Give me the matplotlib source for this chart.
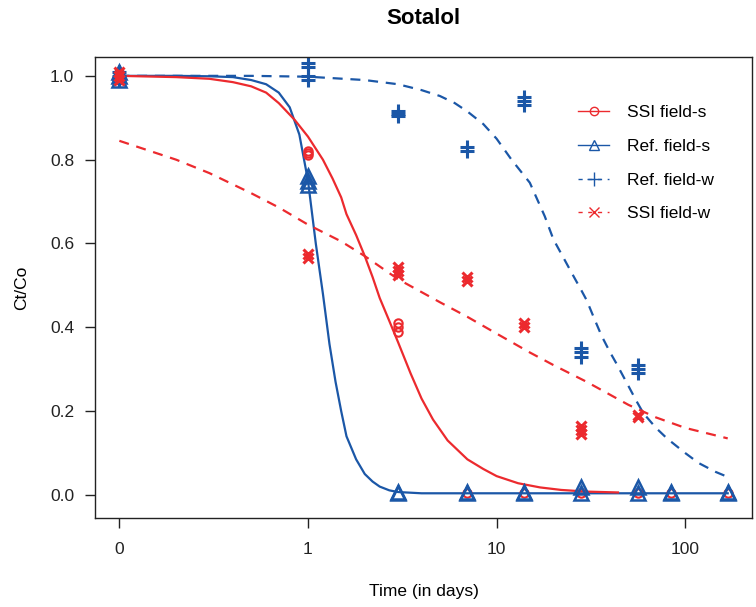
import numpy as np
import matplotlib.pyplot as plt
from matplotlib.ticker import FixedLocator, FixedFormatter, NullLocator

plt.rcParams['font.family'] = ['Liberation Sans', 'DejaVu Sans']

RED = '#EC2A2E'
BLUE = '#1B57A7'

# time 0 is drawn at 0.1 on the log axis and labelled "0"
ZERO_POS = 0.1

# measured points (replicates)
ssi_s_t = [0, 0, 0, 1, 1, 1, 3, 3, 3, 7, 14, 28, 56, 84, 168]
ssi_s_y = [0.99, 1.0, 1.01, 0.81, 0.815, 0.82, 0.39, 0.40, 0.41,
           0.005, 0.005, 0.005, 0.005, 0.005, 0.005]

ref_s_t = [0, 0, 0, 1, 1, 1, 3, 3, 7, 7, 14, 14, 28, 28, 56, 56, 84, 84, 168, 168]
ref_s_y = [0.99, 1.0, 1.01, 0.74, 0.75, 0.76, 0.005, 0.008, 0.005, 0.008,
           0.005, 0.008, 0.005, 0.02, 0.005, 0.02, 0.005, 0.008, 0.005, 0.008]

ref_w_t = [0, 0, 0, 1, 1, 1, 1, 3, 3, 3, 7, 7, 14, 14, 14, 28, 28, 28, 56, 56, 56]
ref_w_y = [0.99, 1.0, 1.01, 0.99, 1.0, 1.02, 1.03, 0.905, 0.91, 0.915, 0.82, 0.83,
           0.93, 0.94, 0.95, 0.33, 0.34, 0.35, 0.29, 0.30, 0.31]

ssi_w_t = [0, 0, 0, 1, 1, 3, 3, 3, 7, 7, 14, 14, 28, 28, 28, 56, 56]
ssi_w_y = [0.99, 1.0, 1.01, 0.565, 0.575, 0.525, 0.535, 0.545, 0.51, 0.52,
           0.40, 0.41, 0.145, 0.155, 0.165, 0.185, 0.19]

# fitted curves
fit_ssi_s_t = [0.1, 0.2, 0.3, 0.4, 0.5, 0.6, 0.7, 0.85, 1, 1.2, 1.35, 1.5, 1.6, 1.8, 2,
               2.2, 2.4, 2.7, 3, 3.5, 4, 4.6, 5.5, 7, 8.5, 10, 13, 17, 22, 30, 44]
fit_ssi_s_y = [1.0, 0.997, 0.993, 0.985, 0.975, 0.96, 0.935, 0.895, 0.855, 0.80, 0.755,
               0.71, 0.67, 0.62, 0.57, 0.52, 0.47, 0.415, 0.365, 0.29, 0.23, 0.18,
               0.13, 0.085, 0.062, 0.045, 0.028, 0.018, 0.012, 0.008, 0.006]

fit_ref_s_t = [0.1, 0.2, 0.3, 0.4, 0.5, 0.6, 0.7, 0.8, 0.9, 1.0, 1.1, 1.2, 1.3, 1.4, 1.5,
               1.6, 1.8, 2.0, 2.2, 2.4, 2.7, 3, 4, 5, 10, 168]
fit_ref_s_y = [1.0, 1.0, 0.999, 0.997, 0.99, 0.98, 0.96, 0.925, 0.86, 0.75, 0.60, 0.48,
               0.36, 0.27, 0.20, 0.14, 0.085, 0.05, 0.032, 0.02, 0.011, 0.007, 0.004,
               0.004, 0.004, 0.004]

fit_ref_w_t = [0.1, 0.5, 1, 2, 3, 4, 5, 6, 7, 8.5, 10, 12, 15, 18, 20, 23, 25, 28, 30, 33,
               36, 40, 43, 50, 55, 60, 70, 80, 100, 118, 145, 168]
fit_ref_w_y = [1.0, 1.0, 0.998, 0.99, 0.98, 0.966, 0.952, 0.935, 0.915, 0.885, 0.85, 0.80,
               0.745, 0.665, 0.61, 0.56, 0.53, 0.49, 0.465, 0.42, 0.38, 0.34, 0.315,
               0.26, 0.225, 0.195, 0.16, 0.135, 0.10, 0.076, 0.055, 0.043]

fit_ssi_w_t = [0.1, 0.2, 0.3, 0.5, 0.7, 1, 1.5, 2, 3, 5, 7, 10, 15, 20, 30, 50, 70, 100, 168]
fit_ssi_w_y = [0.845, 0.80, 0.768, 0.72, 0.686, 0.645, 0.605, 0.57, 0.515, 0.46, 0.425,
               0.385, 0.34, 0.31, 0.27, 0.215, 0.185, 0.16, 0.135]


def pos(t):
    t = np.asarray(t, dtype=float)
    return np.where(t == 0, ZERO_POS, t)


fig = plt.figure(figsize=(7.56, 6.07), dpi=100)
ax = fig.add_axes([0.1257, 0.1466, 0.869, 0.7595])

ax.plot(fit_ref_w_t, fit_ref_w_y, color=BLUE, lw=1.6, ls=(0, (4.5, 3.5)))
ax.plot(fit_ref_s_t, fit_ref_s_y, color=BLUE, lw=1.6)
ax.plot(fit_ssi_w_t, fit_ssi_w_y, color=RED, lw=1.6, ls=(0, (4.5, 3.5)))
ax.plot(fit_ssi_s_t, fit_ssi_s_y, color=RED, lw=1.6)

ax.plot(pos(ssi_s_t), ssi_s_y, ls='none', marker='o', ms=6, mew=1.5, mfc='none', color=RED)
ax.plot(pos(ref_s_t), ref_s_y, ls='none', marker='^', ms=9.5, mew=1.8, mfc='none', color=BLUE)
ax.plot(pos(ref_w_t), ref_w_y, ls='none', marker='+', ms=10, mew=2.2, color=BLUE)
ax.plot(pos(ssi_w_t), ssi_w_y, ls='none', marker='x', ms=7, mew=2.2, color=RED)

# legend handles
h1, = ax.plot([], [], color=RED, lw=1, marker='o', ms=6, mfc='none', mew=1)
h2, = ax.plot([], [], color=BLUE, lw=1, marker='^', ms=7, mfc='none', mew=1)
h3, = ax.plot([], [], color=BLUE, lw=1, ls=(0, (3, 4)), marker='+', ms=10, mew=1)
h4, = ax.plot([], [], color=RED, lw=1, ls=(0, (3, 4)), marker='x', ms=7, mew=1)
ax.legend([h1, h2, h3, h4], ['SSI field-s', 'Ref. field-s', 'Ref. field-w', 'SSI field-w'],
          loc='upper left', bbox_to_anchor=(578 / 756, 1 - 105 / 607),
          bbox_transform=fig.transFigure, frameon=False, borderpad=0, borderaxespad=0,
          fontsize=12.5, handlelength=1.8, handletextpad=1.0, labelspacing=1.07)

ax.set_xscale('log')
ax.set_xlim(10 ** -1.129, 10 ** 2.354)
ax.set_ylim(-0.055, 1.045)
ax.xaxis.set_major_locator(FixedLocator([0.1, 1, 10, 100]))
ax.xaxis.set_major_formatter(FixedFormatter(['0', '1', '10', '100']))
ax.xaxis.set_minor_locator(NullLocator())
ax.set_yticks([0.0, 0.2, 0.4, 0.6, 0.8, 1.0])
ax.set_yticklabels(['0.0', '0.2', '0.4', '0.6', '0.8', '1.0'])

ax.tick_params(axis='both', direction='out', length=7, width=1, labelsize=12.5,
               colors='#222222')
ax.tick_params(axis='x', pad=10)
ax.tick_params(axis='y', pad=8)
for s in ax.spines.values():
    s.set_linewidth(1)
    s.set_color('#222222')

ax.set_xlabel('Time (in days)', fontsize=12.5, labelpad=20)
ax.set_ylabel('Ct/Co', fontsize=12.5, labelpad=15)
ax.set_title('Sotalol', fontsize=16, fontweight='bold', pad=24)

fig.savefig('out.png', dpi=100)
